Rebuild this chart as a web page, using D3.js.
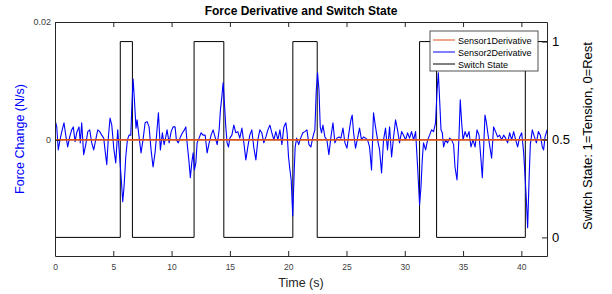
<!DOCTYPE html>
<html>
<head>
<meta charset="utf-8">
<script src="https://cdnjs.cloudflare.com/ajax/libs/d3/7.8.5/d3.min.js"></script>
<style>
  body { margin: 0; background: #fff; }
  svg { font-family: "Liberation Sans", Arial, sans-serif; }
</style>
</head>
<body>
<svg class="chart" width="612" height="294"></svg>
<script>
// x ticks, y ticks
const xTicks = [0, 5, 10, 15, 20, 25, 30, 35, 40]
const leftTicks = [0, 0.02]
const rightTicks = [0, 0.5, 1]

// switch state: time where each state starts, and the state
const switchTimes = [0, 5.6, 6.64, 11.93, 14.48, 20.4, 22.49, 31.27, 32.73, 40.34, 42.2]
const switchStates = [0, 1, 0, 1, 0, 1, 0, 1, 0, 1, 1]

// sensor 1 derivative stays flat at zero
const sensor1 = [[0, 0], [42.2, 0]]

// sensor 2 derivative [time s, N/s]
const sensor2 = [
  [0.00,0.0034],[0.15,0.0022],[0.28,-0.0017],[0.43,0],[0.58,0.0014],[0.77,0.0029],[0.92,0.0008],[1.09,-0.0012],
  [1.26,0.0005],[1.43,0.0017],[1.57,0.0022],[1.72,-0.0003],[1.86,0.0012],[2.06,0.0022],[2.17,-0.0005],[2.29,0.0029],
  [2.46,-0.0025],[2.64,-0.0008],[2.81,0.0014],[2.98,0.0017],[3.15,-0.0005],[3.32,-0.0017],[3.49,0],[3.67,0.0017],
  [3.84,0.0014],[4.01,0.0008],[4.18,0.0003],[4.29,-0.0017],[4.44,-0.0042],[4.58,0.0005],[4.72,0.0037],[4.87,0.0025],
  [5.04,-0.0014],[5.21,-0.0039],[5.38,0.0017],[5.52,-0.0022],[5.67,-0.0063],[5.81,-0.0105],[5.92,-0.008],[6.07,-0.0029],
  [6.21,0],[6.35,0.0008],[6.50,0.0008],[6.58,0.0051],[6.70,0.0103],[6.81,0.0068],[6.95,0.002],
  [7.04,0.0034],[7.21,0.0005],[7.38,-0.0022],[7.55,0],[7.73,0.0029],[7.90,0.0031],[8.07,0.0022],[8.24,-0.0017],
  [8.41,-0.0046],[8.58,-0.0022],[8.70,0.0005],[8.87,0.0046],[9.04,-0.0017],[9.21,0.0012],[9.36,-0.0008],[9.50,0.0005],
  [9.61,0.0017],[9.79,-0.0005],[9.96,0.0014],[10.13,0.0022],[10.30,0.0022],[10.41,0],[10.58,-0.0005],[10.76,0.0005],
  [10.93,0.0012],[11.10,0.0017],[11.22,0.0022],[11.33,-0.0005],[11.48,-0.0034],[11.61,-0.0064],[11.73,-0.0039],[11.85,-0.0022],
  [11.96,-0.0051],[12.08,-0.0039],[12.19,-0.0005],[12.36,0.0003],[12.53,0.0012],[12.70,0.0008],[12.88,0.0008],[13.05,-0.0022],
  [13.22,-0.0005],[13.39,0.0008],[13.56,0.0017],[13.73,0.0005],[13.91,-0.0008],
  [14.08,0.0017],[14.19,0.0051],[14.31,0.0073],[14.42,0.0097],[14.53,0.0063],[14.65,0.0022],[14.76,-0.0005],[14.88,-0.0012],
  [15.00,0.0003],[15.17,0.0008],[15.34,0.0025],[15.51,0.0012],[15.68,0.0014],[15.85,0.0003],[16.03,0.002],[16.20,-0.0005],
  [16.37,-0.0034],[16.54,-0.0012],[16.71,0.0008],[16.88,0.0017],[17.06,-0.0014],[17.23,-0.0034],[17.40,0],[17.57,0.0017],
  [17.74,0.0012],[17.91,-0.0005],[18.09,0.0005],[18.26,0.0017],[18.43,0.0025],[18.60,0.0012],[18.77,0],[18.94,0.0014],
  [19.12,0],[19.29,0.0017],[19.46,-0.0008],[19.63,0.0022],[19.80,0.0029],[19.91,0.0012],[20.03,-0.0029],[20.15,-0.0051],
  [20.26,-0.0068],[20.39,-0.0129],[20.52,-0.0051],[20.60,-0.0012],[20.73,0.0003],[20.90,-0.0008],[21.07,0.0003],
  [21.26,0.0012],[21.43,0.0014],[21.61,0.0017],[21.78,-0.0008],[21.95,-0.0012],[22.12,0.0005],[22.29,0.0017],[22.40,0.008],
  [22.52,0.0114],[22.64,0.0085],[22.75,0.0022],[22.86,0.0012],[22.98,0.0025],[23.15,0.0005],[23.32,0],[23.49,-0.0025],
  [23.67,0.0005],[23.84,0.0029],[24.01,-0.0005],[24.18,0.0003],[24.35,0.0005],[24.52,0.0003],[24.70,0.002],[24.87,-0.0005],
  [25.04,-0.0014],[25.21,0.0012],[25.38,0.0034],[25.49,0.0042],[25.61,0.0012],[25.78,-0.0014],[25.95,0.0003],[26.12,0.002],
  [26.29,0],[26.46,0.0005],[26.64,0.0003],[26.81,0],[26.98,-0.0012],[27.15,-0.0051],[27.32,0.0046],[27.49,0.0022],
  [27.67,0],[27.84,-0.0017],[28.01,-0.0056],[28.18,0],[28.35,0.002],[28.52,-0.0017],[28.70,0.0022],[28.87,-0.0029],
  [29.04,0.0005],[29.21,0.0034],[29.38,0.0017],[29.55,-0.0005],[29.73,0.0014],[29.90,0.0008],[30.07,0],[30.24,0.0012],
  [30.41,0.0003],
  [30.58,0.0014],[30.76,0],[30.93,0.0014],[31.10,-0.0045],[31.27,-0.011],[31.39,-0.008],[31.50,-0.0034],[31.61,-0.0005],
  [31.79,-0.0017],[31.96,0],[32.13,0.0008],[32.30,0.0017],[32.47,0.0014],[32.64,0.0029],[32.76,0.008],[32.88,0.0114],
  [32.99,0.0068],[33.11,0.0017],[33.22,0.0012],[33.33,-0.0012],[33.50,0],[33.67,-0.0005],[33.85,0.0003],[34.02,0],
  [34.19,-0.0008],[34.31,-0.0046],[34.48,-0.0068],[34.65,0.0005],[34.76,0.0068],[34.88,0.0029],[35.00,0],[35.17,0.0014],
  [35.34,0.0005],[35.51,0.0014],[35.68,-0.0012],[35.85,0],[36.03,-0.0012],[36.20,0.0017],[36.37,0.0008],[36.54,-0.0034],
  [36.65,-0.0064],[36.76,-0.0017],[36.88,0.0042],[36.99,0.0031],[37.17,0.0005],[37.34,-0.0017],[37.45,-0.0031],[37.62,0.0022],
  [37.79,0.0014],[37.97,0.0005],[38.14,0.0008],[38.31,0],[38.48,0.0008],[38.65,0.0003],[38.82,-0.0005],[39.00,0.0012],
  [39.17,0],[39.34,0.0014],[39.51,0],[39.68,-0.0012],[39.86,0.0005],[40.03,0.0012],[40.20,-0.0022],[40.32,-0.0063],
  [40.43,-0.0102],[40.54,-0.0149],[40.66,-0.0068],[40.77,-0.0008],[40.94,0.0017],[41.12,0.0005],[41.29,-0.0005],[41.46,0.0014],
  [41.63,0.0008],[41.80,-0.0012],[41.91,-0.0017],[42.03,0.0005],[42.21,0.0017]
]

const svg = d3.select('.chart')
const margin = { top: 22, right: 65, bottom: 38, left: 55 }
const width = +svg.attr('width')
const height = +svg.attr('height')
const axisColor = '#262626'

const xscale = d3.scaleLinear().domain([0, 42.2]).range([margin.left, width - margin.right])
const yLeft = d3.scaleLinear().domain([-0.0197, 0.02]).range([height - margin.bottom, margin.top])
const yRight = d3.scaleLinear().domain([-0.095, 1.1]).range([height - margin.bottom, margin.top])

svg.append('defs').append('clipPath').attr('id', 'plot')
  .append('rect')
  .attr('x', margin.left).attr('y', margin.top)
  .attr('width', width - margin.left - margin.right)
  .attr('height', height - margin.top - margin.bottom)

const plot = svg.append('g').attr('clip-path', 'url(#plot)')

// switch state (right axis)
const switchData = switchTimes.map((t, i) => [t, switchStates[i]])
plot.append('path')
  .datum(switchData)
  .attr('fill', 'none')
  .attr('stroke', '#000')
  .attr('stroke-width', 1)
  .attr('d', d3.line().curve(d3.curveStepAfter).x(d => xscale(d[0])).y(d => yRight(d[1])))

// sensor 2
plot.append('path')
  .datum(sensor2)
  .attr('fill', 'none')
  .attr('stroke', '#0000ff')
  .attr('stroke-width', 1.1)
  .attr('stroke-linejoin', 'round')
  .attr('d', d3.line().x(d => xscale(d[0])).y(d => yLeft(d[1])))

// sensor 1
plot.append('path')
  .datum(sensor1)
  .attr('fill', 'none')
  .attr('stroke', '#D95319')
  .attr('stroke-width', 1.6)
  .attr('d', d3.line().x(d => xscale(d[0])).y(d => yLeft(d[1])))

// axes
const styleAxis = (g, color, size) => {
  g.selectAll('.domain').attr('stroke', axisColor)
  g.selectAll('.tick line').attr('stroke', axisColor)
  g.selectAll('.tick text').attr('fill', color).style('font-size', size + 'px')
  g.attr('font-family', null)
}

const gx = svg.append('g')
  .attr('transform', `translate(0,${height - margin.bottom})`)
  .call(d3.axisBottom(xscale).tickValues(xTicks).tickSizeInner(-5).tickSizeOuter(0).tickPadding(8))
styleAxis(gx, '#404040', 8.5)

const gxTop = svg.append('g')
  .attr('transform', `translate(0,${margin.top})`)
  .call(d3.axisTop(xscale).tickValues(xTicks).tickSizeInner(-5).tickSizeOuter(0).tickFormat(''))
styleAxis(gxTop, '#404040', 8)

const gl = svg.append('g')
  .attr('transform', `translate(${margin.left},0)`)
  .call(d3.axisLeft(yLeft).tickValues(leftTicks).tickSizeInner(-5).tickSizeOuter(0).tickPadding(4)
    .tickFormat(d => d === 0 ? '0' : '0.02'))
styleAxis(gl, '#404040', 9)

const gr = svg.append('g')
  .attr('transform', `translate(${width - margin.right},0)`)
  .call(d3.axisRight(yRight).tickValues(rightTicks).tickSizeInner(-5).tickSizeOuter(0).tickPadding(5)
    .tickFormat(d => d === 0.5 ? '0.5' : String(d)))
styleAxis(gr, '#000', 13)

// titles
svg.append('text')
  .attr('x', (margin.left + width - margin.right) / 2)
  .attr('y', 15)
  .attr('text-anchor', 'middle')
  .style('font-weight', 'bold')
  .style('font-size', '12px')
  .attr('fill', '#000')
  .text('Force Derivative and Switch State')

svg.append('text')
  .attr('x', (margin.left + width - margin.right) / 2)
  .attr('y', 287)
  .attr('text-anchor', 'middle')
  .style('font-size', '12.5px')
  .attr('fill', '#262626')
  .text('Time (s)')

svg.append('text')
  .attr('transform', `translate(24,${139}) rotate(-90)`)
  .attr('text-anchor', 'middle')
  .style('font-size', '12.5px')
  .attr('fill', '#0000ff')
  .text('Force Change (N/s)')

svg.append('text')
  .attr('transform', `translate(592,${136}) rotate(-90)`)
  .attr('text-anchor', 'middle')
  .style('font-size', '13px')
  .attr('fill', '#000')
  .text('Switch State: 1=Tension, 0=Rest')

// legend
const legendItems = [
  { name: 'Sensor1Derivative', color: '#D95319' },
  { name: 'Sensor2Derivative', color: '#0000ff' },
  { name: 'Switch State', color: '#000' }
]
const legend = svg.append('g').attr('transform', 'translate(430,31)')
legend.append('rect')
  .attr('width', 108).attr('height', 40)
  .attr('fill', '#fff').attr('stroke', axisColor).attr('stroke-width', 0.8)
legend.selectAll('g.item').data(legendItems)
  .enter().append('g')
  .attr('class', 'item')
  .attr('transform', (d, i) => `translate(0,${9 + i * 12})`)
  .each(function (d) {
    const g = d3.select(this)
    g.append('line').attr('x1', 3).attr('x2', 25).attr('y1', 0).attr('y2', 0)
      .attr('stroke', d.color).attr('stroke-width', 1)
    g.append('text').attr('x', 28).attr('y', 3.5)
      .style('font-size', '9px').attr('fill', '#000').text(d.name)
  })
</script>
</body>
</html>
